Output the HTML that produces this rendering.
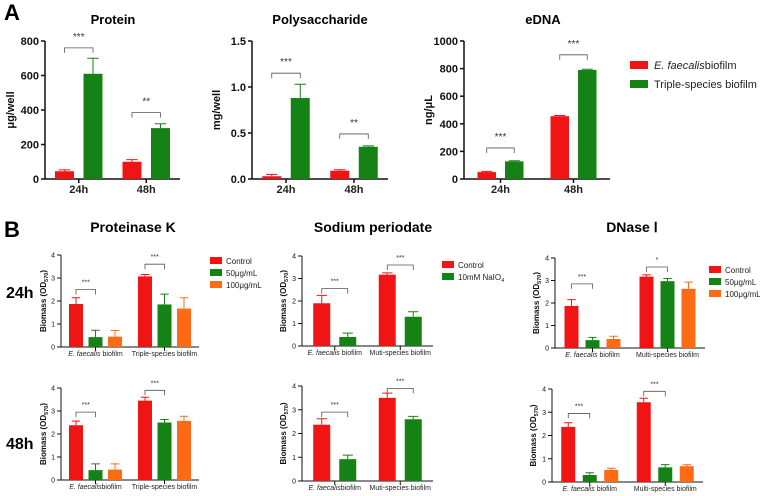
<!DOCTYPE html>
<html><head><meta charset="utf-8">
<style>
body{margin:0;background:#fff;}
svg{display:block;font-family:"Liberation Sans",Arial,sans-serif;}
</style></head>
<body>
<svg id="fig" width="760" height="496" viewBox="0 0 760 496">
<text x="4" y="20" font-size="22" font-weight="bold">A</text>
<text x="4" y="237" font-size="22" font-weight="bold">B</text>
<text x="6" y="298" font-size="16" font-weight="bold">24h</text>
<text x="6" y="449" font-size="16" font-weight="bold">48h</text>
<text x="113" y="24" font-size="13" font-weight="bold" text-anchor="middle">Protein</text>
<text x="320" y="24" font-size="13" font-weight="bold" text-anchor="middle">Polysaccharide</text>
<text x="543" y="24" font-size="13" font-weight="bold" text-anchor="middle">eDNA</text>
<text x="133" y="232" font-size="14" font-weight="bold" text-anchor="middle">Proteinase K</text>
<text x="373" y="232" font-size="14" font-weight="bold" text-anchor="middle">Sodium periodate</text>
<text x="632" y="232" font-size="14" font-weight="bold" text-anchor="middle">DNase Ⅰ</text>
<g>
<rect x="630" y="61" width="18" height="8" fill="#f01414"/>
<text x="654" y="69" font-size="11" fill="#222"><tspan font-style="italic">E. faecalis</tspan>biofilm</text>
<rect x="630" y="80" width="18" height="8" fill="#148214"/>
<text x="654" y="88" font-size="11" fill="#222">Triple-species biofilm</text>
</g>
</svg>
<script>
const RED="#f01414",GREEN="#148214",ORANGE="#ff6a14";
// Panel A data
const groupsA=["24h","48h"];
const proteinRed=[45,100], proteinRedErr=[8,12], proteinGreen=[610,295], proteinGreenErr=[90,25];
const proteinTicks=[0,200,400,600,800], proteinSig=[760,385], proteinSigLabel=["***","**"];
const polyRed=[0.03,0.09], polyRedErr=[0.02,0.01], polyGreen=[0.88,0.35], polyGreenErr=[0.15,0.01];
const polyTicks=[0,0.5,1.0,1.5], polyTickLabels=["0.0","0.5","1.0","1.5"], polySig=[1.15,0.49], polySigLabel=["***","**"];
const ednaRed=[50,455], ednaRedErr=[5,5], ednaGreen=[128,790], ednaGreenErr=[4,5];
const ednaTicks=[0,200,400,600,800,1000], ednaSig=[225,900], ednaSigLabel=["***","***"];
// Panel B data
const bTicks=[0,1,2,3,4];
const pk24Red=[1.87,3.07], pk24RedErr=[0.27,0.08], pk24Green=[0.43,1.85], pk24GreenErr=[0.3,0.45], pk24Orange=[0.45,1.67], pk24OrangeErr=[0.27,0.47], pk24Sig=[2.5,3.6], pk24SigLabel=["***","***"];
const pk48Red=[2.38,3.45], pk48RedErr=[0.18,0.15], pk48Green=[0.43,2.5], pk48GreenErr=[0.27,0.13], pk48Orange=[0.45,2.57], pk48OrangeErr=[0.25,0.2], pk48Sig=[2.95,3.9], pk48SigLabel=["***","***"];
const sp24Red=[1.9,3.17], sp24RedErr=[0.35,0.08], sp24Green=[0.4,1.3], sp24GreenErr=[0.17,0.22], sp24Sig=[2.55,3.6], sp24SigLabel=["***","***"];
const sp48Red=[2.37,3.5], sp48RedErr=[0.25,0.2], sp48Green=[0.92,2.6], sp48GreenErr=[0.17,0.12], sp48Sig=[2.9,3.9], sp48SigLabel=["***","***"];
const dn24Red=[1.87,3.17], dn24RedErr=[0.28,0.08], dn24Green=[0.35,2.97], dn24GreenErr=[0.12,0.12], dn24Orange=[0.4,2.63], dn24OrangeErr=[0.12,0.3], dn24Sig=[2.85,3.6], dn24SigLabel=["***","*"];
const dn48Red=[2.37,3.43], dn48RedErr=[0.18,0.17], dn48Green=[0.3,0.63], dn48GreenErr=[0.1,0.12], dn48Orange=[0.52,0.68], dn48OrangeErr=[0.07,0.06], dn48Sig=[2.95,3.9], dn48SigLabel=["***","***"];

const svg=document.getElementById('fig');
const NS="http://www.w3.org/2000/svg";
function mk(tag,attrs,parent){const e=document.createElementNS(NS,tag);for(const k in attrs)e.setAttribute(k,attrs[k]);(parent||svg).appendChild(e);return e;}

function panel(o){
  const g=mk('g',{});
  
  
  const y=v=>o.y0-(v/o.ymax)*(o.y0-o.ytop);
  const n=o.groups.length, gw=(o.xEnd-o.x0)/n;
  const cx=i=>o.x0+(i+0.5)*gw;
  const k=o.series.length;
  const bx=(i,j)=>cx(i)+(j-(k-1)/2)*o.step;
  const ya=mk('line',{x1:o.x0,y1:o.ytop,x2:o.x0,y2:o.y0,stroke:"#111","stroke-width":o.big?1.5:1},g);
  
  
  const xa=mk('line',{x1:o.x0,y1:o.y0,x2:o.xEnd,y2:o.y0,stroke:"#111","stroke-width":o.big?1.5:1},g);
  
  
  o.ticks.forEach((t,i)=>{
    mk('line',{x1:o.x0-4,y1:y(t),x2:o.x0,y2:y(t),stroke:"#111","stroke-width":o.big?1.5:1},g);
    const tl=mk('text',{x:o.x0-6,y:y(t)+(o.big?4:2.5),"font-size":o.big?11:7,"font-weight":o.big?"bold":"normal","text-anchor":"end",fill:"#111"},g);
    tl.textContent=o.tickLabels?o.tickLabels[i]:t;
    
    
  });
  const yt=mk('text',{transform:`translate(${o.ytx},${(o.ytop+o.y0)/2}) rotate(-90)`,"font-size":o.big?11:8,"font-weight":"bold","text-anchor":"middle",fill:"#111"},g);
  if(o.big){yt.textContent=o.ytitle;}else{
    yt.innerHTML='Biomass (OD<tspan font-size="5.5" dy="2">570</tspan><tspan dy="-2">)</tspan>';
  }
  
  
  o.groups.forEach((gn,i)=>{
    mk('line',{x1:cx(i),y1:o.y0,x2:cx(i),y2:o.y0+4,stroke:"#111","stroke-width":o.big?1.5:1},g);
    const xl=mk('text',{x:cx(i),y:o.y0+(o.big?14:9),"font-size":o.big?11:7,"font-weight":o.big?"bold":"normal","text-anchor":"middle",fill:"#222"},g);
    if(o.big) xl.textContent=gn; else xl.innerHTML=gn;
    
    
    o.series.forEach((s,j)=>{
      const v=s.vals[i], e=s.errs[i], x=bx(i,j);
      const r=mk('rect',{x:x-o.bw/2,y:y(v),width:o.bw,height:o.y0-y(v),fill:s.color},g);
      
      
      const el=mk('path',{d:`M${x},${y(v)}V${y(v+e)}M${x-o.bw*0.3},${y(v+e)}H${x+o.bw*0.3}`,stroke:s.color,"stroke-width":1,fill:"none"},g);
      
      
    });
    const sy=y(o.sig[i]), x1=bx(i,0), x2=bx(i,1);
    const br=mk('path',{d:`M${x1},${sy+5}V${sy}H${x2}V${sy+5}`,stroke:"#555","stroke-width":0.8,fill:"none"},g);
    
    
    const st=mk('text',{x:(x1+x2)/2,y:sy-(o.big?8:5),"font-size":o.big?10:7,"text-anchor":"middle",fill:"#333"},g);
    st.textContent=o.sigLabel[i];
    
    
  });
}
function legendB(x,yy,items){
  items.forEach((it,i)=>{
    const r=mk('rect',{x:x,y:yy+i*12-4,width:12,height:7,fill:it[1]});
    
    
    const t=mk('text',{x:x+16,y:yy+i*12+3,"font-size":8,fill:"#222"});
    t.innerHTML=it[0];
    
    
  });
}
panel({name:'protein-chart',big:true,x0:45,xEnd:180,y0:179,ytop:41,ymax:800,ticks:proteinTicks,ytitle:'μg/well',ytx:14,groups:groupsA,step:28.5,bw:19,
  series:[{key:'efaecalis',color:RED,vals:proteinRed,errs:proteinRedErr},{key:'triple',color:GREEN,vals:proteinGreen,errs:proteinGreenErr}],sig:proteinSig,sigLabel:proteinSigLabel});
panel({name:'polysaccharide-chart',big:true,x0:252,xEnd:388,y0:179,ytop:41,ymax:1.5,ticks:polyTicks,tickLabels:polyTickLabels,ytitle:'mg/well',ytx:220,groups:groupsA,step:28.5,bw:19,
  series:[{key:'efaecalis',color:RED,vals:polyRed,errs:polyRedErr},{key:'triple',color:GREEN,vals:polyGreen,errs:polyGreenErr}],sig:polySig,sigLabel:polySigLabel});
panel({name:'edna-chart',big:true,x0:464,xEnd:610,y0:179,ytop:41,ymax:1000,ticks:ednaTicks,ytitle:'ng/μL',ytx:432,groups:groupsA,step:27.5,bw:18.5,
  series:[{key:'efaecalis',color:RED,vals:ednaRed,errs:ednaRedErr},{key:'triple',color:GREEN,vals:ednaGreen,errs:ednaGreenErr}],sig:ednaSig,sigLabel:ednaSigLabel});
const efb='<tspan font-style="italic">E. faecalis</tspan> biofilm', efb2='<tspan font-style="italic">E. faecalis</tspan>biofilm';
panel({name:'proteinase-24h-chart',x0:61,xEnd:199,y0:347,ytop:255,ymax:4,ticks:bTicks,ytx:46,groups:[efb,'Triple-species biofilm'],step:19.5,bw:14,
  series:[{key:'control',color:RED,vals:pk24Red,errs:pk24RedErr},{key:'50',color:GREEN,vals:pk24Green,errs:pk24GreenErr},{key:'100',color:ORANGE,vals:pk24Orange,errs:pk24OrangeErr}],sig:pk24Sig,sigLabel:pk24SigLabel});
panel({name:'proteinase-48h-chart',x0:61,xEnd:199,y0:480,ytop:388,ymax:4,ticks:bTicks,ytx:46,groups:[efb2,'Triple-species biofilm'],step:19.5,bw:14,
  series:[{key:'control',color:RED,vals:pk48Red,errs:pk48RedErr},{key:'50',color:GREEN,vals:pk48Green,errs:pk48GreenErr},{key:'100',color:ORANGE,vals:pk48Orange,errs:pk48OrangeErr}],sig:pk48Sig,sigLabel:pk48SigLabel});
panel({name:'periodate-24h-chart',x0:302,xEnd:433,y0:346,ytop:256,ymax:4,ticks:bTicks,ytx:286,groups:[efb,'Muti-species biofilm'],step:26,bw:17,
  series:[{key:'control',color:RED,vals:sp24Red,errs:sp24RedErr},{key:'naio4',color:GREEN,vals:sp24Green,errs:sp24GreenErr}],sig:sp24Sig,sigLabel:sp24SigLabel});
panel({name:'periodate-48h-chart',x0:302,xEnd:433,y0:481,ytop:386,ymax:4,ticks:bTicks,ytx:286,groups:[efb2,'Muti-species biofilm'],step:26,bw:17,
  series:[{key:'control',color:RED,vals:sp48Red,errs:sp48RedErr},{key:'naio4',color:GREEN,vals:sp48Green,errs:sp48GreenErr}],sig:sp48Sig,sigLabel:sp48SigLabel});
panel({name:'dnase-24h-chart',x0:555,xEnd:705,y0:348,ytop:258,ymax:4,ticks:bTicks,ytx:539,groups:[efb,'Multi-species biofilm'],step:21,bw:14,
  series:[{key:'control',color:RED,vals:dn24Red,errs:dn24RedErr},{key:'50',color:GREEN,vals:dn24Green,errs:dn24GreenErr},{key:'100',color:ORANGE,vals:dn24Orange,errs:dn24OrangeErr}],sig:dn24Sig,sigLabel:dn24SigLabel});
panel({name:'dnase-48h-chart',x0:552,xEnd:703,y0:482,ytop:389,ymax:4,ticks:bTicks,ytx:536,groups:[efb,'Multi-species biofilm'],step:21.5,bw:14,
  series:[{key:'control',color:RED,vals:dn48Red,errs:dn48RedErr},{key:'50',color:GREEN,vals:dn48Green,errs:dn48GreenErr},{key:'100',color:ORANGE,vals:dn48Orange,errs:dn48OrangeErr}],sig:dn48Sig,sigLabel:dn48SigLabel});
legendB(210,261,[['Control',RED],['50μg/mL',GREEN],['100μg/mL',ORANGE]]);
legendB(442,265,[['Control',RED],['10mM NaIO<tspan font-size="5.5" dy="2">4</tspan>',GREEN]]);
legendB(709,270,[['Control',RED],['50μg/mL',GREEN],['100μg/mL',ORANGE]]);
</script>
</body></html>
